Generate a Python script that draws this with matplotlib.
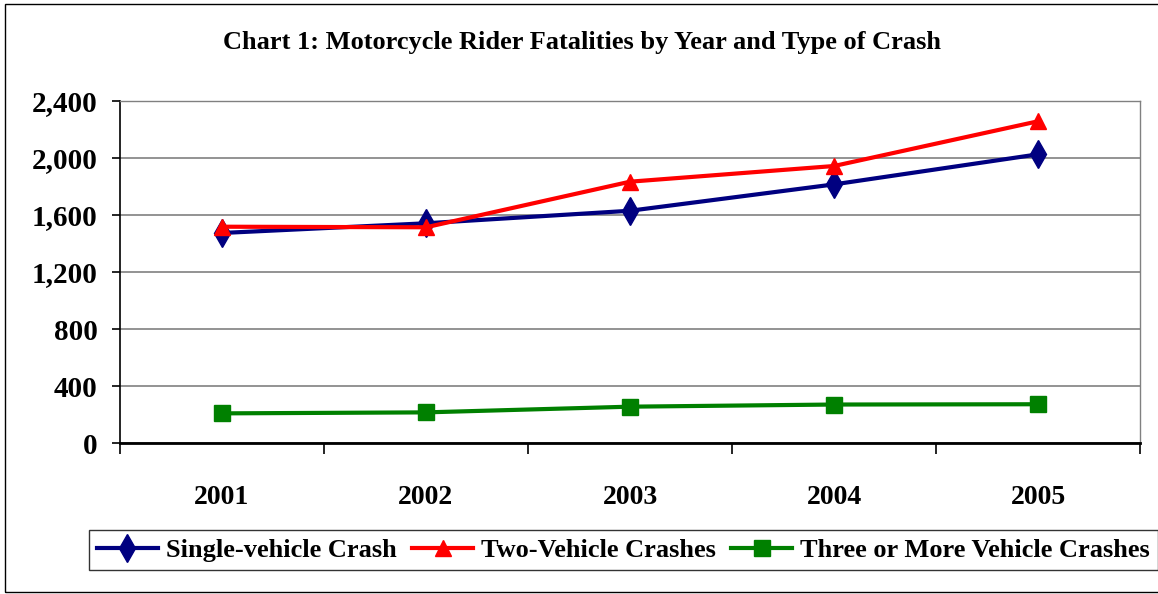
import matplotlib.pyplot as plt
from matplotlib.patches import Rectangle
from matplotlib.ticker import FixedLocator, FuncFormatter

years = ["2001", "2002", "2003", "2004", "2005"]
single_vehicle = [1474, 1542, 1630, 1815, 2026]
two_vehicle = [1518, 1514, 1834, 1944, 2258]
three_plus = [208, 215, 255, 270, 272]

plt.rcParams["font.family"] = ["Liberation Serif", "DejaVu Serif"]
plt.rcParams["font.weight"] = "bold"

fig = plt.figure(figsize=(11.58, 5.94), dpi=100)
ax = fig.add_axes([0.1036, 0.2542, 0.8809, 0.5757])

x = range(len(years))
ax.plot(x, single_vehicle, color="#000080", lw=3, marker="d", ms=14,
        label="Single-vehicle Crash", zorder=3)
ax.plot(x, two_vehicle, color="#FF0000", lw=3, marker="^", ms=12,
        label="Two-Vehicle Crashes", zorder=3)
ax.plot(x, three_plus, color="#008000", lw=3, marker="s", ms=11,
        label="Three or More Vehicle Crashes", zorder=3)

ax.set_xlim(-0.5, len(years) - 0.5)
ax.set_ylim(0, 2400)
ax.set_yticks(range(0, 2401, 400))
ax.yaxis.set_major_formatter(FuncFormatter(lambda v, p: f"{int(v):,}"))
ax.set_xticks(list(x))
ax.set_xticklabels(years)
ax.xaxis.set_minor_locator(FixedLocator([i - 0.5 for i in range(len(years) + 1)]))
ax.tick_params(axis="x", which="major", length=0, pad=30, labelsize=20)
ax.tick_params(axis="x", which="minor", length=8, width=1.2, color="black")
ax.tick_params(axis="y", length=6, width=1.2, pad=10, labelsize=21)

ax.grid(axis="y", color="#808080", lw=1.2)
ax.set_axisbelow(True)
for side in ("top", "right"):
    ax.spines[side].set_color("#808080")
    ax.spines[side].set_linewidth(1.0)
ax.spines["left"].set_linewidth(1.2)
ax.spines["bottom"].set_linewidth(2.0)

fig.text(0.503, 0.929, "Chart 1: Motorcycle Rider Fatalities by Year and Type of Crash",
         ha="center", va="center", fontsize=19, fontweight="bold")

leg = fig.legend(loc="center left", bbox_to_anchor=(0.0769, 0.074), ncol=3,
                 fontsize=19, frameon=True, fancybox=False, edgecolor="black",
                 handlelength=2.3, handletextpad=0.3, columnspacing=0.6,
                 borderpad=0.3, borderaxespad=0)
leg.get_frame().set_linewidth(1.0)

fig.patches.append(Rectangle((0.004, 0.003), 1.2, 0.99, transform=fig.transFigure,
                             fill=False, edgecolor="black", lw=1.0))

fig.savefig("out.png", dpi=100)
